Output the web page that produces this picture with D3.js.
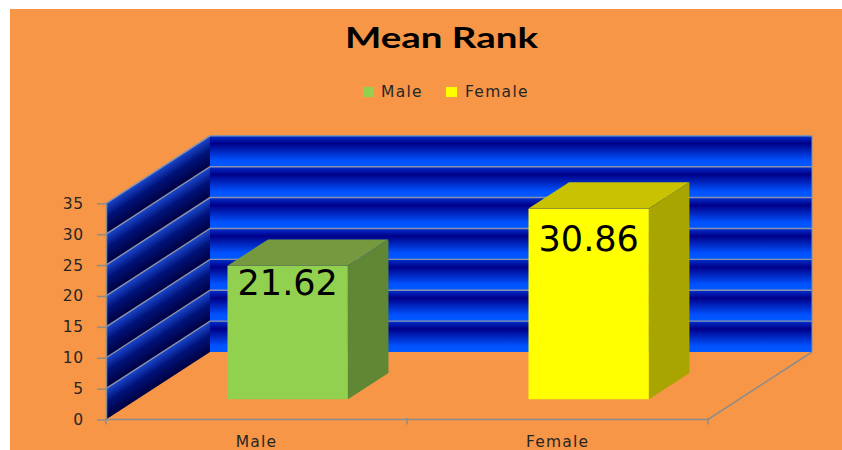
<!DOCTYPE html>
<html>
<head>
<meta charset="utf-8">
<script src="https://cdn.jsdelivr.net/npm/d3@7"></script>
<style>
  html, body { margin: 0; padding: 0; background: #ffffff; }
  svg { display: block; }
</style>
</head>
<body>
<script>
// ---- data ----
const categories = ["Male", "Female"];
const values = [21.62, 30.86];
const yTicks = [0, 5, 10, 15, 20, 25, 30, 35];
const title = "Mean Rank";
const seriesNames = ["Male", "Female"];

// ---- styles ----
const frontColors = ["#92D050", "#FFFF00"];
const topColors = ["#76993F", "#C8C200"];
const sideColors = ["#608834", "#A8A400"];

const W = 842, H = 450;
const svg = d3.select("body").append("svg").attr("width", W).attr("height", H);

svg.append("rect").attr("width", W).attr("height", H).attr("fill", "#ffffff");
svg.append("rect").attr("x", 10).attr("y", 9).attr("width", W - 10).attr("height", H - 9).attr("fill", "#F79646");

const x = d3.scaleBand().domain(categories).range([106, 708]);
const y = d3.scaleLinear().domain([0, 35]).range([419.5, 203.3]);
const DX = 104, DY = -67.5;
const F0 = 0.3, F1 = 0.69;

const defs = svg.append("defs");
const bw = defs.append("linearGradient").attr("id", "bw")
  .attr("x1", 0).attr("y1", 0).attr("x2", 0).attr("y2", 1);
bw.append("stop").attr("offset", 0).attr("stop-color", "#0030d0");
bw.append("stop").attr("offset", 0.25).attr("stop-color", "#000088");
bw.append("stop").attr("offset", 0.8).attr("stop-color", "#0052ff");
bw.append("stop").attr("offset", 1).attr("stop-color", "#0058ff");

const wallX = 106 + DX;
const wallRight = 708 + DX;
const bands = d3.range(yTicks.length - 1).map(i => [yTicks[i], yTicks[i + 1]]);

// back wall bands
svg.append("g").selectAll("rect").data(bands).join("rect")
  .attr("x", wallX)
  .attr("y", d => y(d[1]) + DY)
  .attr("width", wallRight - wallX)
  .attr("height", d => y(d[0]) - y(d[1]))
  .attr("fill", "url(#bw)");

// side wall bands with gradients perpendicular to the diagonal
const len = Math.hypot(DX, DY);
const px = -DY / len, py = DX / len;
bands.forEach((d, i) => {
  const h = (y(d[0]) - y(d[1])) * (DX / len);
  const g = defs.append("linearGradient").attr("id", "sw" + i)
    .attr("gradientUnits", "userSpaceOnUse")
    .attr("x1", 106).attr("y1", y(d[1]))
    .attr("x2", 106 + px * h).attr("y2", y(d[1]) + py * h);
  g.append("stop").attr("offset", 0).attr("stop-color", "#1a48d0");
  g.append("stop").attr("offset", 0.45).attr("stop-color", "#001278");
  g.append("stop").attr("offset", 1).attr("stop-color", "#000040");
});
svg.append("g").selectAll("polygon").data(bands).join("polygon")
  .attr("points", d => [
    [106, y(d[0])], [106 + DX, y(d[0]) + DY], [106 + DX, y(d[1]) + DY], [106, y(d[1])]
  ].map(p => p.join(",")).join(" "))
  .attr("fill", (d, i) => `url(#sw${i})`);

// gridlines
svg.append("g").selectAll("path").data(yTicks.filter(t => t > 0)).join("path")
  .attr("d", t => `M106,${y(t)}L${wallX},${y(t) + DY}L${wallRight},${y(t) + DY}`)
  .attr("fill", "none").attr("stroke", "#8a92aa").attr("stroke-width", 1.4);
// back wall right edge
svg.append("line").attr("x1", wallRight).attr("x2", wallRight)
  .attr("y1", y(35) + DY).attr("y2", y(0) + DY)
  .attr("stroke", "#7f8aa8").attr("stroke-width", 1);

// floor outline
const axisColor = "#8c8c8c";
svg.append("path")
  .attr("d", `M106,${y(0)}L708,${y(0)}L${wallRight},${y(0) + DY}`)
  .attr("fill", "none").attr("stroke", axisColor).attr("stroke-width", 1.5);

// x axis ticks at band edges
const xEdges = [106, ...categories.map(c => x(c) + x.bandwidth())];
svg.append("g").selectAll("line").data(xEdges).join("line")
  .attr("x1", d => d).attr("x2", d => d)
  .attr("y1", y(0) - 1.5).attr("y2", y(0) + 5)
  .attr("stroke", axisColor).attr("stroke-width", 1.5);

// y axis
const yAxis = svg.append("g").attr("transform", "translate(106,0)")
  .call(d3.axisLeft(y).tickValues(yTicks).tickSize(9).tickSizeOuter(0).tickPadding(13));
yAxis.select(".domain").attr("stroke", axisColor).attr("stroke-width", 1.5);
yAxis.selectAll(".tick line").attr("stroke", axisColor).attr("stroke-width", 1.5);
yAxis.selectAll(".tick text")
  .attr("font-family", "DejaVu Sans, Verdana, sans-serif")
  .attr("font-size", 15.5).attr("letter-spacing", 0.8)
  .attr("fill", "#262626");

// x labels
svg.append("g").selectAll("text").data(categories).join("text")
  .attr("x", c => x(c) + x.bandwidth() / 2)
  .attr("y", 447)
  .attr("text-anchor", "middle")
  .attr("font-family", "DejaVu Sans, Verdana, sans-serif")
  .attr("font-size", 15.5).attr("letter-spacing", 1.2)
  .attr("fill", "#262626")
  .text(c => c);

// bars
const barW = x.bandwidth() * 0.4;
const ddx = DX * (F1 - F0), ddy = DY * (F1 - F0);
const barData = categories.map((c, i) => {
  const fx = x(c) + (x.bandwidth() - barW) / 2 + DX * F0;
  const ty = y(values[i]) + DY * F0;
  const by = y(0) + DY * F0;
  return { c, v: values[i], i, fx, ty, by };
});
const bars = svg.append("g").selectAll("g").data(barData).join("g");
bars.append("rect")
  .attr("x", d => d.fx).attr("y", d => d.ty)
  .attr("width", barW).attr("height", d => d.by - d.ty)
  .attr("fill", d => frontColors[d.i]);
bars.append("polygon")
  .attr("points", d => [
    [d.fx, d.ty], [d.fx + barW, d.ty], [d.fx + barW + ddx, d.ty + ddy], [d.fx + ddx, d.ty + ddy]
  ].map(p => p.join(",")).join(" "))
  .attr("fill", d => topColors[d.i]);
bars.append("polygon")
  .attr("points", d => [
    [d.fx + barW, d.ty], [d.fx + barW + ddx, d.ty + ddy], [d.fx + barW + ddx, d.by + ddy], [d.fx + barW, d.by]
  ].map(p => p.join(",")).join(" "))
  .attr("fill", d => sideColors[d.i]);
bars.append("text")
  .attr("x", d => d.fx + barW / 2)
  .attr("y", d => d.ty + (d.by - d.ty) * 0.22)
  .attr("text-anchor", "middle")
  .attr("font-family", "DejaVu Sans, Verdana, sans-serif")
  .attr("font-size", 35)
  .attr("fill", "#000000")
  .text(d => d.v.toFixed(2));

// title
svg.append("text")
  .attr("x", 441.5).attr("y", 48)
  .attr("text-anchor", "middle")
  .attr("font-family", "Lato, Open Sans, sans-serif")
  .attr("font-weight", "bold")
  .attr("font-size", 28.5)
  .attr("textLength", 193).attr("lengthAdjust", "spacingAndGlyphs")
  .attr("fill", "#000000")
  .text(title);

// legend
const legend = svg.append("g");
const legendItems = [
  { name: seriesNames[0], color: frontColors[0], sx: 363, tx: 381 },
  { name: seriesNames[1], color: frontColors[1], sx: 446, tx: 465 }
];
legend.selectAll("rect").data(legendItems).join("rect")
  .attr("x", d => d.sx).attr("y", 87).attr("width", 11).attr("height", 10)
  .attr("fill", d => d.color);
legend.selectAll("text").data(legendItems).join("text")
  .attr("x", d => d.tx).attr("y", 97)
  .attr("font-family", "DejaVu Sans, Verdana, sans-serif")
  .attr("font-size", 15.5).attr("letter-spacing", 1.3)
  .attr("fill", "#262626")
  .text(d => d.name);
</script>
</body>
</html>
